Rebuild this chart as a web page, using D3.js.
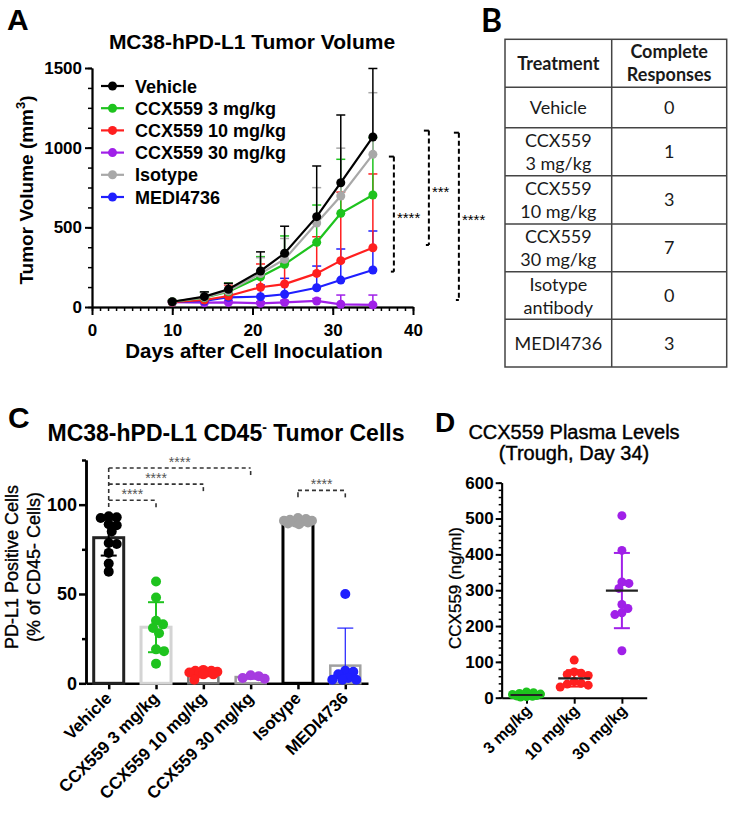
<!DOCTYPE html>
<html>
<head>
<meta charset="utf-8">
<script src="https://cdn.jsdelivr.net/npm/d3@7"></script>
<style>
  body { margin: 0; background: #fff; }
  svg text { font-family: "Liberation Sans", Arial, sans-serif; }
</style>
</head>
<body>
<div id="fig"></div>
<script>
// ---------- Panel A : tumour volume over time ----------
const days = [10, 14, 17, 21, 24, 28, 31, 35];
const seriesNames = ["Vehicle", "CCX559 3 mg/kg", "CCX559 10 mg/kg", "CCX559 30 mg/kg", "Isotype", "MEDI4736"];
const volVehicle = [33, 65, 111, 226, 337, 567, 780, 1067];
const volCcx3    = [33, 58, 96, 190, 268, 406, 588, 703];
const volCcx10   = [30, 44, 69, 124, 144, 211, 291, 372];
const volCcx30   = [30, 27, 29, 23, 29, 38, 17, 13];
const volIso     = [33, 60, 100, 210, 300, 527, 697, 958];
const volMedi    = [30, 38, 61, 65, 80, 121, 169, 232];
const sdVehicle  = [8, 30, 38, 120, 170, 318, 425, 430];
const sdCcx3     = [8, 34, 54, 126, 178, 234, 339, 360];
const sdCcx10    = [6, 20, 69, 146, 132, 230, 430, 463];
const sdCcx30    = [6, 10, 12, 10, 12, 15, 58, 62];
const sdIso      = [8, 30, 45, 100, 130, 222, 300, 387];
const sdMedi     = [6, 15, 20, 73, 100, 136, 195, 245];
const xTicksA = [0, 10, 20, 30, 40];
const yTicksA = [0, 500, 1000, 1500];
// significance brackets: top value, bottom value, label
const sigA = [
  { top: 944, bottom: 222, label: "****" },
  { top: 1107, bottom: 389, label: "***" },
  { top: 1094, bottom: 44, label: "****" }
];

// ---------- Panel B : complete responses ----------
const tableTreatments = [["Vehicle"], ["CCX559", "3 mg/kg"], ["CCX559", "10 mg/kg"], ["CCX559", "30 mg/kg"], ["Isotype", "antibody"], ["MEDI4736"]];
const completeResponses = [0, 1, 3, 7, 0, 3];

// ---------- Panel C : PD-L1 positive cells ----------
const groupsC = ["Vehicle", "CCX559 3 mg/kg", "CCX559 10 mg/kg", "CCX559 30 mg/kg", "Isotype", "MEDI4736"];
const meanC = [81.5, 31.4, 6, 3.5, 90.5, 9.9];
const sdC = [10, 14, 1.5, 1, 1.5, 21];
const ptsCVehicle = [93.5, 93, 92.5, 89, 88.5, 85, 78.5, 78, 73, 67, 62.5];
const ptsCCcx3 = [57, 48, 35, 33, 31, 28, 19, 18, 11];
const ptsCCcx10 = [7.5, 7, 7, 6.5, 6, 6, 5.5, 5, 5, 2];
const ptsCCcx30 = [4.5, 4, 3, 2.5];
const ptsCIso = [92.5, 92, 91.5, 91, 91, 90.5, 90, 90, 89.5, 89];
const ptsCMedi = [50, 7, 6.5, 5, 3, 2, 2, 2];
const yTicksC = [0, 50, 100];
const sigC = [
  { from: 0, to: 1, y: 102.5, label: "****" },
  { from: 0, to: 2, y: 111.5, label: "****" },
  { from: 0, to: 3, y: 120.5, label: "****" },
  { from: 4, to: 5, y: 108, label: "****" }
];

// ---------- Panel D : plasma levels ----------
const groupsD = ["3 mg/kg", "10 mg/kg", "30 mg/kg"];
const ptsD3 = [16, 14, 12, 10, 9, 8, 7, 6, 5, 4, 3, 2];
const ptsD10 = [105, 72, 68, 65, 62, 45, 40, 38, 35, 30];
const ptsD30 = [508, 411, 323, 319, 305, 260, 249, 237, 232, 131];
const meanD = [7.5, 54, 299];
const sdD = [4, 23, 105];
const yTicksD = [0, 100, 200, 300, 400, 500, 600];

// ---------- colours ----------
const colA = ["#000000", "#1ec31e", "#ff1f1f", "#a020e8", "#a8a8a8", "#1f1fff"];
const colC = ["#000000", "#1ec31e", "#ff1f1f", "#a63be0", "#a0a0a0", "#1f1fff"];
const barStroke = ["#222222", "#d4d4d4", "#777777", "#9a9a9a", "#000000", "#a0a0a0"];
const barStrokeW = [3, 3, 2.5, 2.5, 3, 2.5];
const colD = ["#1ec31e", "#ff1f1f", "#a020e8"];

const svg = d3.select("#fig").append("svg")
  .attr("width", 733).attr("height", 815)
  .style("background", "#fff");

function styleAxis(g, w) {
  g.select(".domain").attr("stroke", "#000").attr("stroke-width", w || 2);
  g.selectAll(".tick line").attr("stroke", "#000").attr("stroke-width", w || 2);
  g.selectAll(".tick text").attr("fill", "#000");
}

// simple swarm: spread dots sideways so they overlap less
function swarm(values, y, gap, maxOff) {
  const order = values.map((v, i) => i).sort((a, b) => values[b] - values[a]);
  const placed = [];
  const off = new Array(values.length).fill(0);
  order.forEach(i => {
    const py = y(values[i]);
    let best = 0, bestD = -1;
    for (let k = 0; k <= 2 * maxOff; k++) {
      const c = (k % 2 ? 1 : -1) * Math.ceil(k / 2);
      let minD = Infinity;
      placed.forEach(p => { minD = Math.min(minD, Math.hypot(p.x - c, p.y - py)); });
      if (minD >= gap) { best = c; bestD = Infinity; break; }
      if (minD > bestD) { bestD = minD; best = c; }
    }
    off[i] = best;
    placed.push({ x: best, y: py });
  });
  return off;
}

// ===================== PANEL A =====================
const gA = svg.append("g");
gA.append("text").attr("x", 7).attr("y", 30).text("A")
  .style("font-size", "30px").style("font-weight", "bold");
gA.append("text").attr("x", 252).attr("y", 49).attr("text-anchor", "middle")
  .text("MC38-hPD-L1 Tumor Volume").style("font-size", "21px").style("font-weight", "bold");

const xA = d3.scaleLinear().domain([0, 40]).range([92, 413]);
const yA = d3.scaleLinear().domain([0, 1500]).range([307, 68]);

gA.append("g").attr("transform", `translate(0,${yA(0)})`)
  .call(d3.axisBottom(xA).tickValues(d3.range(0, 41)).tickSize(4).tickSizeOuter(0).tickFormat(""))
  .call(g => styleAxis(g, 1.5));
gA.append("g").attr("transform", `translate(0,${yA(0)})`)
  .call(d3.axisBottom(xA).tickValues(xTicksA).tickSize(8).tickSizeOuter(0).tickPadding(9).tickFormat(d => d))
  .call(g => styleAxis(g, 2))
  .call(g => g.selectAll("text").style("font-size", "17px").style("font-weight", "bold"));
gA.append("g").attr("transform", `translate(${xA(0)},0)`)
  .call(d3.axisLeft(yA).tickValues(d3.range(0, 1501, 125)).tickSize(4).tickSizeOuter(0).tickFormat(""))
  .call(g => styleAxis(g, 1.5));
gA.append("g").attr("transform", `translate(${xA(0)},0)`)
  .call(d3.axisLeft(yA).tickValues(yTicksA).tickSize(7).tickSizeOuter(0).tickPadding(3).tickFormat(d => d))
  .call(g => styleAxis(g, 2))
  .call(g => g.selectAll("text").style("font-size", "17px").style("font-weight", "bold"));

gA.append("text").attr("x", 254).attr("y", 358).attr("text-anchor", "middle")
  .text("Days after Cell Inoculation").style("font-size", "20.5px").style("font-weight", "bold");
const yLabA = gA.append("text").attr("transform", "translate(33,190) rotate(-90)")
  .attr("text-anchor", "middle").style("font-size", "19px").style("font-weight", "bold");
yLabA.append("tspan").text("Tumor Volume (mm");
yLabA.append("tspan").text("3").attr("dy", -8).style("font-size", "13px");
yLabA.append("tspan").text(")").attr("dy", 8);

const seriesA = seriesNames.map((name, i) => ({
  name, color: colA[i],
  mean: [volVehicle, volCcx3, volCcx10, volCcx30, volIso, volMedi][i],
  sd: [sdVehicle, sdCcx3, sdCcx10, sdCcx30, sdIso, sdMedi][i]
}));

[3, 5, 2, 1, 4, 0].forEach(i => {
  const s = seriesA[i];
  const g = gA.append("g");
  g.selectAll("line.err").data(days).join("line").attr("class", "err")
    .attr("x1", d => xA(d)).attr("x2", d => xA(d))
    .attr("y1", (d, j) => yA(s.mean[j])).attr("y2", (d, j) => yA(s.mean[j] + s.sd[j]))
    .attr("stroke", s.color).attr("stroke-width", 1.5);
  g.selectAll("line.cap").data(days).join("line").attr("class", "cap")
    .attr("x1", d => xA(d) - 4.5).attr("x2", d => xA(d) + 4.5)
    .attr("y1", (d, j) => yA(s.mean[j] + s.sd[j])).attr("y2", (d, j) => yA(s.mean[j] + s.sd[j]))
    .attr("stroke", s.color).attr("stroke-width", 1.5);
  g.append("path")
    .attr("d", d3.line().x((d, j) => xA(days[j])).y(d => yA(d))(s.mean))
    .attr("fill", "none").attr("stroke", s.color).attr("stroke-width", 2.2);
  g.selectAll("circle").data(s.mean).join("circle")
    .attr("cx", (d, j) => xA(days[j])).attr("cy", d => yA(d)).attr("r", 4.5)
    .attr("fill", s.color);
});

// legend
const legA = gA.append("g");
seriesA.forEach((s, i) => {
  const ly = 86 + i * 22.2;
  legA.append("line").attr("x1", 101).attr("x2", 124).attr("y1", ly).attr("y2", ly)
    .attr("stroke", s.color).attr("stroke-width", 2.2);
  legA.append("circle").attr("cx", 112.5).attr("cy", ly).attr("r", 4.5).attr("fill", s.color);
  legA.append("text").attr("x", 135).attr("y", ly + 6.5).text(s.name)
    .style("font-size", "18px").style("font-weight", "bold");
});

// significance brackets
const sigOffA = [21, 56, 86];
sigA.forEach((b, i) => {
  const bx = xA(35) + sigOffA[i];
  const t = yA(b.top), bt = yA(b.bottom);
  const g = gA.append("g").attr("stroke", "#000").attr("stroke-width", 2).attr("fill", "none");
  g.append("line").attr("x1", bx).attr("x2", bx).attr("y1", t).attr("y2", bt).attr("stroke-dasharray", "5,3");
  g.append("line").attr("x1", bx - 5).attr("x2", bx).attr("y1", t).attr("y2", t);
  g.append("line").attr("x1", bx - 3).attr("x2", bx).attr("y1", bt).attr("y2", bt);
  gA.append("text").attr("x", bx + 3).attr("y", (t + bt) / 2 + 9).text(b.label)
    .style("font-size", "15px");
});

// ===================== PANEL B =====================
const gB = svg.append("g");
gB.append("text").attr("x", 481).attr("y", 32).text("B")
  .style("font-family", "Lato, 'Liberation Sans', sans-serif").style("font-size", "32px").style("font-weight", "bold");
const colX = [505, 611.7, 726.7];
const rowH = [48, 40.4, 48, 48.3, 47.7, 47.6, 47.7];
const rowY = [39.3];
rowH.forEach(h => rowY.push(rowY[rowY.length - 1] + h));
const tFont = "Lato, 'Open Sans', sans-serif";
gB.append("rect").attr("x", colX[0]).attr("y", rowY[0])
  .attr("width", colX[2] - colX[0]).attr("height", rowY[rowY.length - 1] - rowY[0])
  .attr("fill", "none").attr("stroke", "#444").attr("stroke-width", 1.5);
gB.append("line").attr("x1", colX[1]).attr("x2", colX[1]).attr("y1", rowY[0]).attr("y2", rowY[rowY.length - 1])
  .attr("stroke", "#444").attr("stroke-width", 1.5);
rowY.slice(1, -1).forEach(y => gB.append("line").attr("x1", colX[0]).attr("x2", colX[2])
  .attr("y1", y).attr("y2", y).attr("stroke", "#444").attr("stroke-width", 1.5));

function cellText(lines, cx, top, bottom, bold) {
  const mid = (top + bottom) / 2;
  const lh = 23;
  lines.forEach((l, k) => {
    gB.append("text").attr("x", cx).attr("y", mid + (k - (lines.length - 1) / 2) * lh + 6.5)
      .attr("text-anchor", "middle").text(l)
      .style("font-family", tFont).style("font-size", "18px")
      .style("font-weight", bold ? "bold" : "normal").attr("fill", "#1a1a1a");
  });
}
const c1 = (colX[0] + colX[1]) / 2, c2 = (colX[1] + colX[2]) / 2;
cellText(["Treatment"], c1, rowY[0], rowY[1], true);
cellText(["Complete", "Responses"], c2, rowY[0], rowY[1], true);
tableTreatments.forEach((t, i) => {
  cellText(t, c1, rowY[i + 1], rowY[i + 2], false);
  cellText([String(completeResponses[i])], c2, rowY[i + 1], rowY[i + 2], false);
});

// ===================== PANEL C =====================
const gC = svg.append("g");
gC.append("text").attr("x", 8).attr("y", 428).text("C")
  .style("font-size", "30px").style("font-weight", "bold");
const titC = gC.append("text").attr("x", 226).attr("y", 441).attr("text-anchor", "middle")
  .style("font-size", "23px").style("font-weight", "bold");
titC.append("tspan").text("MC38-hPD-L1 CD45");
titC.append("tspan").text("-").attr("dy", -9).style("font-size", "14px");
titC.append("tspan").text(" Tumor Cells").attr("dy", 9);

const xC = d3.scalePoint().domain(groupsC).range([86, 368]).padding(0.48);
const yC = d3.scaleLinear().domain([0, 125]).range([683.3, 460]);

gC.append("g").attr("transform", `translate(86,0)`)
  .call(d3.axisLeft(yC).tickValues([25, 75, 125]).tickSize(4).tickSizeOuter(0).tickFormat(""))
  .call(g => styleAxis(g, 2.5));
gC.append("g").attr("transform", `translate(86,0)`)
  .call(d3.axisLeft(yC).tickValues(yTicksC).tickSize(7).tickSizeOuter(0).tickPadding(2))
  .call(g => styleAxis(g, 2.5))
  .call(g => g.selectAll("text").style("font-size", "18px").style("font-weight", "bold"));
gC.append("g").attr("transform", `translate(0,${yC(0)})`)
  .call(d3.axisBottom(xC).tickSize(6).tickSizeOuter(0).tickFormat(""))
  .call(g => styleAxis(g, 2.5));

gC.selectAll("text.xl").data(groupsC).join("text").attr("class", "xl")
  .attr("transform", d => `translate(${xC(d) + 4},${yC(0) + 16}) rotate(-45)`)
  .attr("text-anchor", "end").text(d => d)
  .style("font-size", "17px").style("font-weight", "bold");

const yLabC = gC.append("g").attr("transform", "translate(0,567) rotate(-90)")
  .attr("stroke", "#000").attr("stroke-width", 0.35);
yLabC.append("text").attr("y", 18).attr("text-anchor", "middle").text("PD-L1 Positive Cells").style("font-size", "18px");
yLabC.append("text").attr("y", 40).attr("text-anchor", "middle").text("(% of CD45- Cells)").style("font-size", "18px");

const ptsC = [ptsCVehicle, ptsCCcx3, ptsCCcx10, ptsCCcx30, ptsCIso, ptsCMedi];
groupsC.forEach((grp, i) => {
  const cx = xC(grp);
  gC.append("rect").attr("x", cx - 15).attr("width", 30)
    .attr("y", yC(meanC[i])).attr("height", yC(0) - yC(meanC[i]))
    .attr("fill", "#fff").attr("stroke", barStroke[i]).attr("stroke-width", barStrokeW[i]);
});
groupsC.forEach((grp, i) => {
  const cx = xC(grp);
  const g = gC.append("g").attr("stroke", colC[i]).attr("stroke-width", i === 5 ? 1.2 : 2);
  const loVal = meanC[i] - sdC[i];
  const lo = yC(Math.max(0, loVal)), hi = yC(meanC[i] + sdC[i]);
  g.append("line").attr("x1", cx).attr("x2", cx).attr("y1", lo).attr("y2", hi);
  if (loVal > 0) g.append("line").attr("x1", cx - 8).attr("x2", cx + 8).attr("y1", lo).attr("y2", lo);
  g.append("line").attr("x1", cx - 8).attr("x2", cx + 8).attr("y1", hi).attr("y2", hi);
  const off = swarm(ptsC[i], yC, 7.5, 14);
  gC.selectAll(null).data(ptsC[i]).join("circle")
    .attr("cx", (d, j) => cx + off[j]).attr("cy", d => yC(d)).attr("r", 5)
    .attr("fill", colC[i]);
});

sigC.forEach(b => {
  const x1 = xC(groupsC[b.from]), x2 = xC(groupsC[b.to]), y = yC(b.y);
  const g = gC.append("g").attr("stroke", "#333").attr("stroke-width", 1.6).attr("fill", "none");
  g.append("line").attr("x1", x1).attr("x2", x2).attr("y1", y).attr("y2", y).attr("stroke-dasharray", "4,3");
  g.append("line").attr("x1", x2).attr("x2", x2).attr("y1", y + 3).attr("y2", y + 7);
  if (b.from === 4) g.append("line").attr("x1", x1).attr("x2", x1).attr("y1", y + 2).attr("y2", y + 7);
  gC.append("text").attr("x", (x1 + x2) / 2).attr("y", y - 1).attr("text-anchor", "middle")
    .text(b.label).style("font-size", "14px").attr("fill", "#555");
});
gC.append("line").attr("x1", xC(groupsC[0])).attr("x2", xC(groupsC[0]))
  .attr("y1", yC(120.5)).attr("y2", yC(97)).attr("stroke", "#333").attr("stroke-width", 1.6)
  .attr("stroke-dasharray", "4,3");

// ===================== PANEL D =====================
const gD = svg.append("g");
gD.append("text").attr("x", 435).attr("y", 432).text("D")
  .style("font-size", "28px").style("font-weight", "bold");
gD.append("text").attr("x", 574).attr("y", 439).attr("text-anchor", "middle")
  .attr("stroke", "#000").attr("stroke-width", 0.4)
  .text("CCX559 Plasma Levels").style("font-size", "20px");
gD.append("text").attr("x", 574).attr("y", 460).attr("text-anchor", "middle")
  .attr("stroke", "#000").attr("stroke-width", 0.4)
  .text("(Trough, Day 34)").style("font-size", "20px");

const xD = d3.scalePoint().domain(groupsD).range([501.7, 646.7]).padding(0.52);
const yD = d3.scaleLinear().domain([0, 600]).range([697.7, 482.7]);

gD.append("g").attr("transform", `translate(501.7,0)`)
  .call(d3.axisLeft(yD).tickValues(d3.range(0, 601, 20)).tickSize(3).tickSizeOuter(0).tickFormat(""))
  .call(g => styleAxis(g, 1.5));
gD.append("g").attr("transform", `translate(501.7,0)`)
  .call(d3.axisLeft(yD).tickValues(yTicksD).tickSize(6).tickSizeOuter(0).tickPadding(2).tickFormat(d => d))
  .call(g => styleAxis(g, 2))
  .call(g => g.selectAll("text").style("font-size", "17px").style("font-weight", "bold"));
gD.append("g").attr("transform", `translate(0,${yD(0)})`)
  .call(d3.axisBottom(xD).tickSize(6).tickSizeOuter(0).tickFormat(""))
  .call(g => styleAxis(g, 2));
gD.selectAll("text.xl").data(groupsD).join("text").attr("class", "xl")
  .attr("transform", d => `translate(${xD(d) + 6},${yD(0) + 14}) rotate(-45)`)
  .attr("text-anchor", "end").text(d => d)
  .style("font-size", "16px").style("font-weight", "bold");
gD.append("text").attr("transform", "translate(461,588) rotate(-90)").attr("text-anchor", "middle")
  .attr("stroke", "#000").attr("stroke-width", 0.3)
  .text("CCX559 (ng/ml)").style("font-size", "17px");

const ptsD = [ptsD3, ptsD10, ptsD30];
groupsD.forEach((grp, i) => {
  const cx = xD(grp);
  const off = swarm(ptsD[i], yD, 7, 15);
  gD.selectAll(null).data(ptsD[i]).join("circle")
    .attr("cx", (d, j) => cx + off[j]).attr("cy", d => yD(d)).attr("r", 4.5)
    .attr("fill", colD[i]);
  const g = gD.append("g").attr("stroke", colD[i]).attr("stroke-width", 2);
  const lo = yD(meanD[i] - sdD[i]), hi = yD(meanD[i] + sdD[i]);
  g.append("line").attr("x1", cx).attr("x2", cx).attr("y1", lo).attr("y2", hi);
  g.append("line").attr("x1", cx - 8).attr("x2", cx + 8).attr("y1", lo).attr("y2", lo);
  g.append("line").attr("x1", cx - 8).attr("x2", cx + 8).attr("y1", hi).attr("y2", hi);
  gD.append("line").attr("x1", cx - 16).attr("x2", cx + 16)
    .attr("y1", yD(meanD[i])).attr("y2", yD(meanD[i]))
    .attr("stroke", "#222").attr("stroke-width", 2.2);
});
</script>
</body>
</html>
